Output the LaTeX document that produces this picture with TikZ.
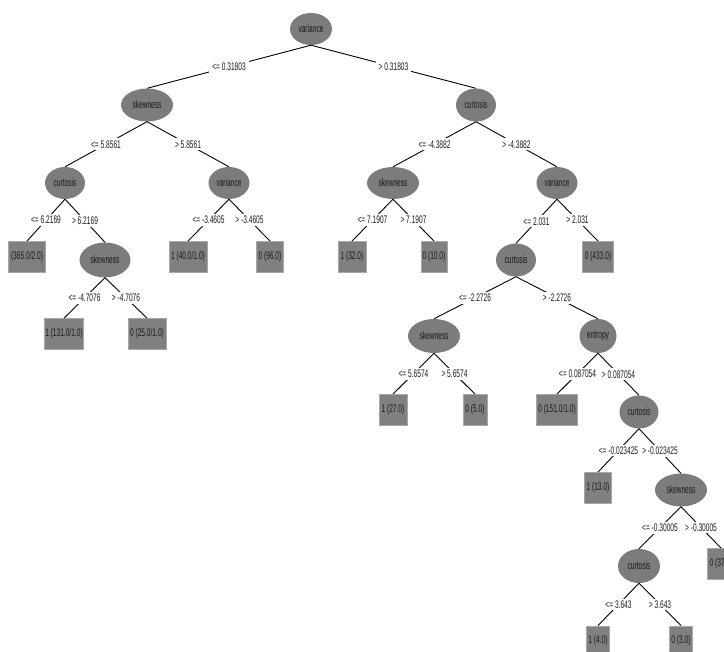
\documentclass[tikz,border=0pt]{standalone}
\usepackage{fontspec}
\usetikzlibrary{shapes.geometric}
\newfontfamily\wekafont[FakeStretch=0.6]{Liberation Sans}
\definecolor{nodegray}{HTML}{7C7C7C}
\definecolor{boxgray}{HTML}{808080}
\definecolor{boxedge}{HTML}{A8A8A8}
\begin{document}
\begin{tikzpicture}[x=1pt,y=-1pt,
  every node/.style={font=\wekafont\fontsize{11}{12}\selectfont, text=black!90},
  dnode/.style={ellipse, fill=nodegray, inner sep=0pt, minimum height=33pt},
  leafbox/.style={rectangle, fill=boxgray, draw=boxedge, line width=0.8pt, inner sep=0pt, minimum height=31pt},
  lbl/.style={fill=white, inner xsep=3pt, inner ysep=2pt, midway},
  edge/.style={draw=black, line width=0.9pt}]
\useasboundingbox (0,0) rectangle (724,652);
\clip (0,0) rectangle (724,652);
% decision nodes
\node[dnode, minimum width=42pt, minimum height=32pt] (root) at (311,29) {variance};
\node[dnode, minimum width=52pt] (s1) at (147,105) {skewness};
\node[dnode, minimum width=40pt] (c1) at (476,105) {curtosis};
\node[dnode, minimum width=40pt, minimum height=32pt] (c2) at (65,183) {curtosis};
\node[dnode, minimum width=41pt, minimum height=32pt] (v2) at (229,183) {variance};
\node[dnode, minimum width=52pt, minimum height=32pt] (s2r) at (393,183) {skewness};
\node[dnode, minimum width=41pt, minimum height=32pt] (v2r) at (557,183) {variance};
\node[dnode, minimum width=51pt, minimum height=35pt] (s3) at (105,260) {skewness};
\node[dnode, minimum width=40pt] (c3) at (516,260) {curtosis};
\node[dnode, minimum width=52pt, minimum height=34pt] (s4) at (434,336) {skewness};
\node[dnode, minimum width=37pt, minimum height=34pt] (e4) at (598,336) {entropy};
\node[dnode, minimum width=39pt] (c5) at (639,412) {curtosis};
\node[dnode, minimum width=52pt] (s6) at (681,490) {skewness};
\node[dnode, minimum width=42pt, minimum height=34pt] (c7) at (639,566) {curtosis};
% leaves
\node[leafbox, minimum width=37pt] (b365) at (27,257) {(365.0/2.0)};
\node[leafbox, minimum width=38pt] (b40) at (188,257) {1 (40.0/1.0)};
\node[leafbox, minimum width=27pt] (b96) at (270,257) {0 (96.0)};
\node[leafbox, minimum width=28pt] (b32) at (352,257) {1 (32.0)};
\node[leafbox, minimum width=26pt] (b10) at (434,257) {0 (10.0)};
\node[leafbox, minimum width=31pt] (b433) at (598,257) {0 (433.0)};
\node[leafbox, minimum width=39pt] (b131) at (64,334) {1 (131.0/1.0)};
\node[leafbox, minimum width=38pt] (b25) at (147,334) {0 (25.0/1.0)};
\node[leafbox, minimum width=28pt] (b27) at (393,410) {1 (27.0)};
\node[leafbox, minimum width=24pt] (b5) at (475,410) {0 (5.0)};
\node[leafbox, minimum width=41pt] (b151) at (557,410) {0 (151.0/1.0)};
\node[leafbox, minimum width=27pt] (b13) at (598,488) {1 (13.0)};
\node[leafbox, minimum width=28pt] (b37) at (721,564) {0 (37.0)};
\node[leafbox, minimum width=23pt, minimum height=30pt] (b4) at (598,641) {1 (4.0)};
\node[leafbox, minimum width=23pt, minimum height=30pt] (b3) at (681,641) {0 (3.0)};
% edges
\draw[edge] (root.south) -- node[lbl] {<= 0.31803} (s1.north);
\draw[edge] (root.south) -- node[lbl] {> 0.31803} (c1.north);
\draw[edge] (s1.south) -- node[lbl] {<= 5.8561} (c2.north);
\draw[edge] (s1.south) -- node[lbl] {> 5.8561} (v2.north);
\draw[edge] (c1.south) -- node[lbl] {<= -4.3882} (s2r.north);
\draw[edge] (c1.south) -- node[lbl] {> -4.3882} (v2r.north);
\draw[edge] (c2.south) -- node[lbl] {<= 6.2169} (b365.north);
\draw[edge] (c2.south) -- node[lbl] {> 6.2169} (s3.north);
\draw[edge] (v2.south) -- node[lbl] {<= -3.4605} (b40.north);
\draw[edge] (v2.south) -- node[lbl] {> -3.4605} (b96.north);
\draw[edge] (s2r.south) -- node[lbl] {<= 7.1907} (b32.north);
\draw[edge] (s2r.south) -- node[lbl] {> 7.1907} (b10.north);
\draw[edge] (v2r.south) -- node[lbl] {<= 2.031} (c3.north);
\draw[edge] (v2r.south) -- node[lbl] {> 2.031} (b433.north);
\draw[edge] (s3.south) -- node[lbl] {<= -4.7076} (b131.north);
\draw[edge] (s3.south) -- node[lbl] {> -4.7076} (b25.north);
\draw[edge] (c3.south) -- node[lbl] {<= -2.2726} (s4.north);
\draw[edge] (c3.south) -- node[lbl] {> -2.2726} (e4.north);
\draw[edge] (s4.south) -- node[lbl] {<= 5.6574} (b27.north);
\draw[edge] (s4.south) -- node[lbl] {> 5.6574} (b5.north);
\draw[edge] (e4.south) -- node[lbl] {<= 0.087054} (b151.north);
\draw[edge] (e4.south) -- node[lbl] {> 0.087054} (c5.north);
\draw[edge] (c5.south) -- node[lbl] {<= -0.023425} (b13.north);
\draw[edge] (c5.south) -- node[lbl] {> -0.023425} (s6.north);
\draw[edge] (s6.south) -- node[lbl] {<= -0.30005} (c7.north);
\draw[edge] (s6.south) -- node[lbl] {> -0.30005} (b37.north);
\draw[edge] (c7.south) -- node[lbl] {<= 3.643} (b4.north);
\draw[edge] (c7.south) -- node[lbl] {> 3.643} (b3.north);
\end{tikzpicture}
\end{document}
